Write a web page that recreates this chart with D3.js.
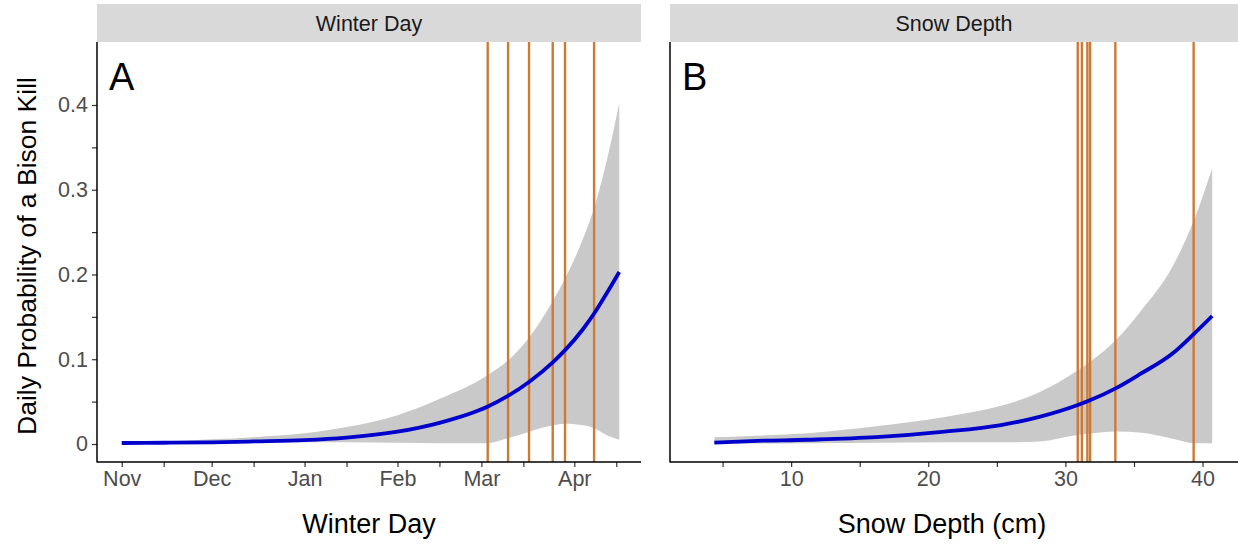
<!DOCTYPE html>
<html>
<head>
<meta charset="utf-8">
<script src="https://cdn.jsdelivr.net/npm/d3@7"></script>
<style>
  html, body { margin: 0; padding: 0; background: #fff; }
  svg { display: block; font-family: "Liberation Sans", Arial, sans-serif; }
</style>
</head>
<body>
<svg id="chart" width="1238" height="544"></svg>
<script>
// ---------- data ----------
const panelTitles = ["Winter Day", "Snow Depth"];
const panelLetters = ["A", "B"];
const xTitles = ["Winter Day", "Snow Depth (cm)"];
const yTitle = "Daily Probability of a Bison Kill";

// Panel A: days since Nov 1
const winterDays  = [0, 14, 30, 44, 61, 75, 92, 106, 122, 129, 136, 144, 148, 154, 158, 162, 166];
const winterFit   = [0.0012, 0.0015, 0.002, 0.003, 0.0045, 0.0075, 0.0145, 0.025, 0.044, 0.057, 0.0735, 0.097, 0.111, 0.136, 0.156, 0.179, 0.203];
const winterUpper = [0.002, 0.003, 0.0055, 0.008, 0.0126, 0.02, 0.034, 0.053, 0.081, 0.099, 0.126, 0.17, 0.196, 0.243, 0.283, 0.337, 0.402];
const winterLower = [0.0006, 0.0008, 0.001, 0.0014, 0.002, 0.002, 0.0015, 0.001, 0.001, 0.007, 0.0145, 0.022, 0.024, 0.022, 0.018, 0.01, 0.005];
const winterKills = [122.1, 128.9, 135.9, 143.8, 147.9, 157.6];

// Panel B: snow depth (cm)
const snowDepth = [4.4, 7.1, 11.2, 16.2, 21.2, 25.3, 28.1, 30.9, 31.7, 33.7, 35.4, 37.9, 39.35, 40.7];
const snowFit   = [0.0015, 0.0035, 0.005, 0.008, 0.0145, 0.0224, 0.032, 0.046, 0.051, 0.066, 0.082, 0.108, 0.1296, 0.151];
const snowUpper = [0.008, 0.0095, 0.0128, 0.021, 0.032, 0.045, 0.061, 0.087, 0.096, 0.123, 0.155, 0.212, 0.263, 0.325];
const snowLower = [0.0004, 0.0006, 0.001, 0.0015, 0.002, 0.002, 0.003, 0.0106, 0.012, 0.0146, 0.0135, 0.006, 0.001, 0.0008];
const snowKills = [30.9, 31.2, 31.6, 31.8, 33.64, 39.35];

// axis ticks
const monthTicks  = [0, 30, 61, 92, 120, 151];
const monthLabels = ["Nov", "Dec", "Jan", "Feb", "Mar", "Apr"];
const monthMinor  = [14, 44, 75, 106, 134, 165];
const probTicks   = [0, 0.05, 0.1, 0.15, 0.2, 0.25, 0.3, 0.35, 0.4];
const probLabels  = ["0", "", "0.1", "", "0.2", "", "0.3", "", "0.4"];
const depthTicks  = [5, 10, 15, 20, 25, 30, 35, 40];
const depthLabels = ["", "10", "", "20", "", "30", "", "40"];

// ---------- layout ----------
const svg = d3.select("#chart");
const plotTop = 42, plotBottom = 462, stripTop = 4;
const y = d3.scaleLinear().domain([-0.02124, 0.4743]).range([plotBottom, plotTop]);

const panels = [
  { x: d3.scaleLinear().domain([-8.25, 173.25]).range([97, 641]),
    xs: winterDays, fit: winterFit, up: winterUpper, lo: winterLower, kills: winterKills,
    ticks: monthTicks.concat(monthMinor),
    fmt: v => { const i = monthTicks.indexOf(v); return i >= 0 ? monthLabels[i] : ""; },
    showY: true },
  { x: d3.scaleLinear().domain([1.166, 42.585]).range([670, 1238]),
    xs: snowDepth, fit: snowFit, up: snowUpper, lo: snowLower, kills: snowKills,
    ticks: depthTicks,
    fmt: v => depthLabels[depthTicks.indexOf(v)],
    showY: false }
];

const tickColor = "#333333";
const labelColor = "#4d4d4d";

panels.forEach((p, i) => {
  const [x0, x1] = p.x.range();
  const g = svg.append("g");

  // strip
  g.append("rect").attr("x", x0).attr("y", stripTop).attr("width", x1 - x0).attr("height", plotTop - stripTop)
    .attr("fill", "#d9d9d9");
  g.append("text").attr("x", (x0 + x1) / 2).attr("y", 30.5).attr("text-anchor", "middle")
    .attr("font-size", 21.5).attr("fill", "#1a1a1a").text(panelTitles[i]);

  const clip = "clip" + i;
  svg.append("clipPath").attr("id", clip).append("rect")
    .attr("x", x0).attr("y", plotTop).attr("width", x1 - x0).attr("height", plotBottom - plotTop);
  const plot = g.append("g").attr("clip-path", `url(#${clip})`);

  const rows = p.xs.map((v, k) => ({ x: v, f: p.fit[k], u: p.up[k], l: p.lo[k] }));

  // ribbon
  plot.append("path").datum(rows)
    .attr("d", d3.area().x(d => p.x(d.x)).y0(d => y(d.l)).y1(d => y(d.u)).curve(d3.curveMonotoneX))
    .attr("fill", "#c9c9c9");

  // kill lines
  plot.selectAll(".kill").data(p.kills).enter().append("line")
    .attr("x1", d => p.x(d)).attr("x2", d => p.x(d)).attr("y1", plotTop).attr("y2", plotBottom)
    .attr("stroke", "#cd7a35").attr("stroke-width", 2.4);

  // fit line
  plot.append("path").datum(rows)
    .attr("d", d3.line().x(d => p.x(d.x)).y(d => y(d.f)).curve(d3.curveMonotoneX))
    .attr("fill", "none").attr("stroke", "#0000cd").attr("stroke-width", 3.8);

  // x axis
  const xa = g.append("g").attr("transform", `translate(0,${plotBottom})`)
    .call(d3.axisBottom(p.x).tickValues(p.ticks).tickFormat(p.fmt).tickSize(5).tickPadding(4).tickSizeOuter(0));
  xa.select(".domain").remove();
  xa.selectAll(".tick line").attr("stroke", tickColor).attr("stroke-width", 1.2);
  xa.selectAll(".tick text").attr("font-size", 21.5).attr("fill", labelColor)
    .attr("font-family", "Liberation Sans, Arial, sans-serif");

  if (p.showY) {
    const ya = g.append("g").attr("transform", `translate(${x0},0)`)
      .call(d3.axisLeft(y).tickValues(probTicks).tickFormat((d, k) => probLabels[k]).tickSize(5).tickPadding(4));
    ya.select(".domain").remove();
    ya.selectAll(".tick line").attr("stroke", tickColor).attr("stroke-width", 1.2);
    ya.selectAll(".tick text").attr("font-size", 21.5).attr("fill", labelColor)
      .attr("font-family", "Liberation Sans, Arial, sans-serif");
  }

  // axis lines
  g.append("line").attr("x1", x0).attr("x2", x0).attr("y1", plotTop).attr("y2", plotBottom + 0.5)
    .attr("stroke", "#000").attr("stroke-width", 1.5);
  g.append("line").attr("x1", x0).attr("x2", x1).attr("y1", plotBottom).attr("y2", plotBottom)
    .attr("stroke", "#000").attr("stroke-width", 1.5);

  // panel letter
  g.append("text").attr("x", x0 + 12).attr("y", 90).attr("font-size", 38).attr("fill", "#000")
    .text(panelLetters[i]);

  // x title
  g.append("text").attr("x", (x0 + (i === 0 ? x1 : 1214)) / 2).attr("y", 533).attr("text-anchor", "middle")
    .attr("font-size", 27).attr("fill", "#000").text(xTitles[i]);
});

svg.append("text").attr("transform", "translate(36,256) rotate(-90)").attr("text-anchor", "middle")
  .attr("font-size", 26.5).attr("fill", "#000").text(yTitle);
</script>
</body>
</html>
